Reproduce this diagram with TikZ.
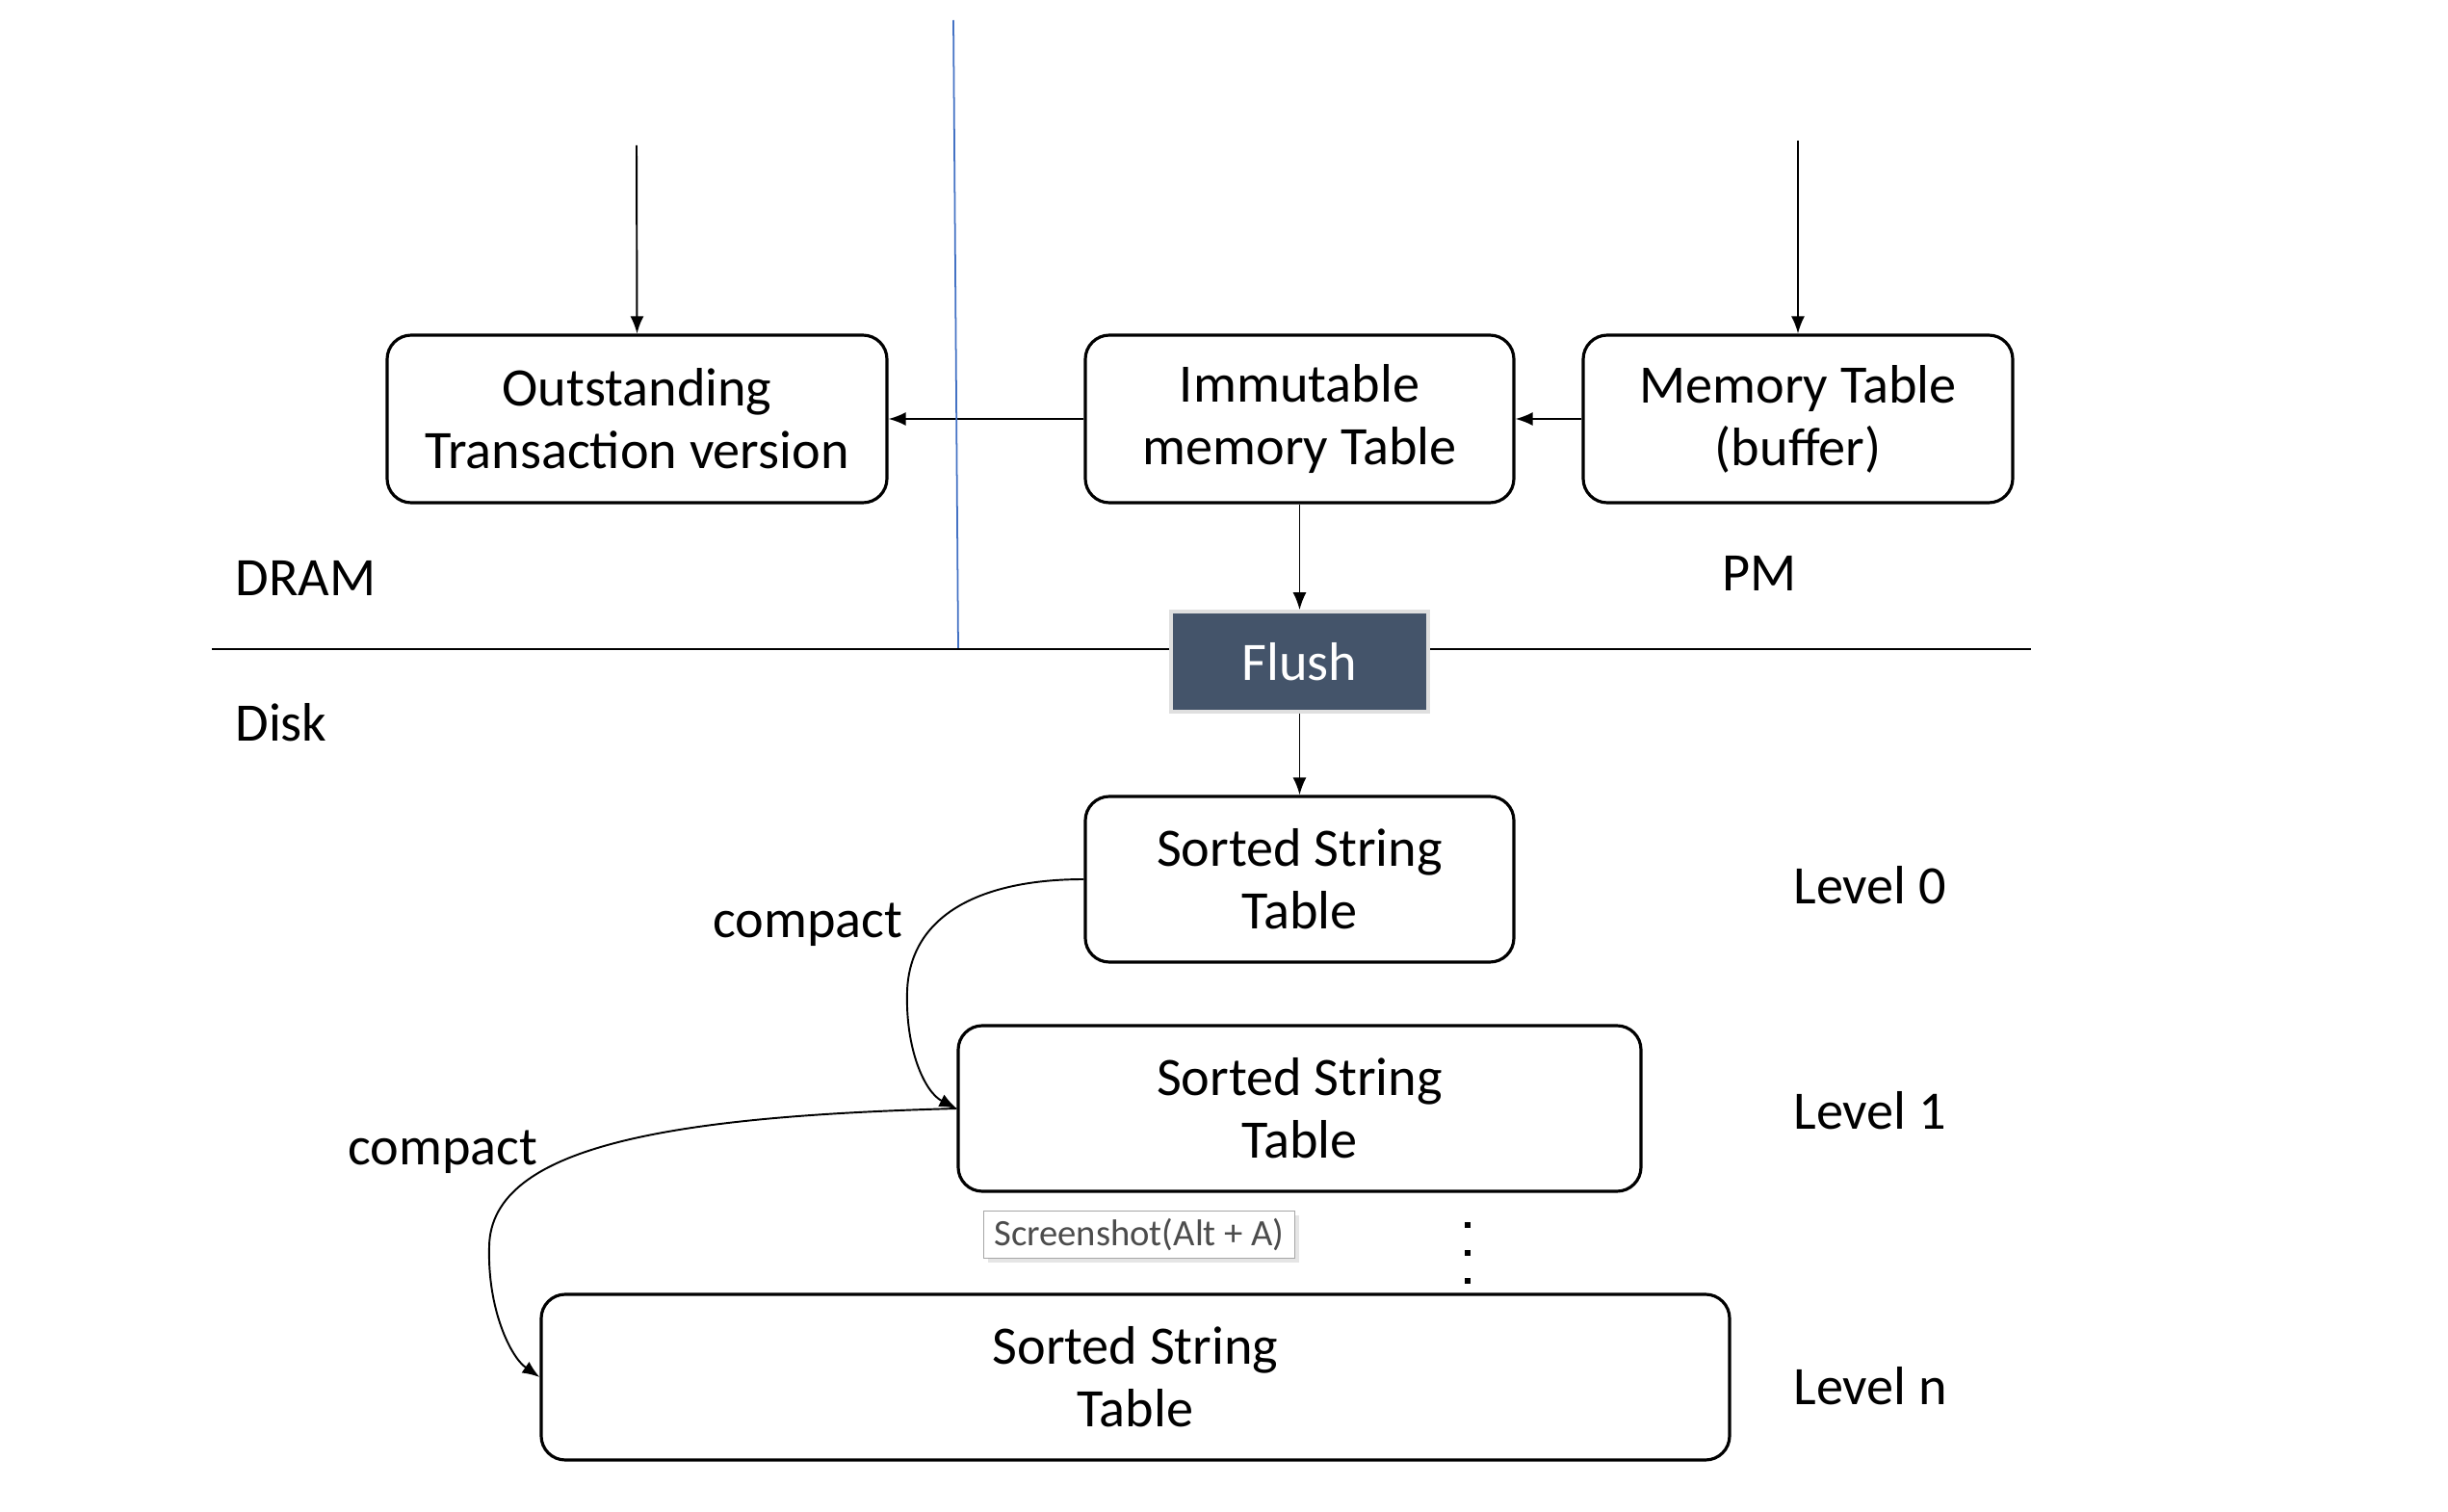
\documentclass[tikz,border=0pt]{standalone}
\usepackage{fontspec}
\setmainfont{Carlito}
\usepackage{tikz}
\usetikzlibrary{shadows,arrows.meta}
\definecolor{flushblue}{HTML}{44546A}
\definecolor{linkblue}{HTML}{4472C4}
\tikzstyle{arrow}     = [line width=0.55pt,->,>={Latex[length=1.8mm,width=1.4mm]}]
\tikzstyle{box}       = [draw,line width=0.9pt,rounded corners=0.25cm,align=center,font=\fontsize{16}{18.5}\selectfont]
\tikzstyle{lbl}       = [font=\fontsize{16}{18.5}\selectfont]

\begin{document}
\begin{tikzpicture}
           \useasboundingbox (0, 0) rectangle (25.42, 15.69);
           % memory side
           \node[box,minimum width=5.19cm,minimum height=1.74cm](ots)at(6.615, 11.34){Outstanding\\Transaction version};
           \node[box,minimum width=4.45cm,minimum height=1.74cm](imm)at(13.495, 11.34){Immutable\\memory Table};
           \node[box,minimum width=4.46cm,minimum height=1.74cm](mem)at(18.67, 11.34){Memory Table\\(buffer)};
           \coordinate(otsin)at(6.61, 14.18);
           \coordinate(memin)at(18.67, 14.23);
           \draw[arrow](otsin)--(ots.north);
           \draw[arrow](memin)--(mem.north);
           \draw[arrow](mem.west)--(imm.east);
           \draw[arrow](imm.west)--(ots.east);
           % separators
           \coordinate(bt)at(9.90, 15.48);
           \coordinate(bb)at(9.95, 8.95);
           \draw[linkblue,line width=0.5pt](bt)--(bb);
           \coordinate(hl)at(2.20, 8.95);
           \coordinate(hr)at(21.09, 8.95);
           \draw[line width=0.55pt](hl)--(hr);
           \node[lbl,anchor=west](dram)at(2.32, 9.69){DRAM};
           \node[lbl](pm)at(18.27, 9.74){PM};
           \node[lbl,anchor=west](disk)at(2.32, 8.19){Disk};
           % flush
           \node[fill=flushblue,draw=gray!25,line width=1pt,text=white,minimum width=2.67cm,minimum height=1.04cm,font=\fontsize{16}{18.5}\selectfont](flush)at(13.495, 8.82){Flush};
           \draw[arrow](imm.south)--(flush.north);
           % disk levels
           \node[box,minimum width=4.45cm,minimum height=1.72cm](sst0)at(13.495, 6.56){Sorted String\\Table};
           \node[box,minimum width=7.09cm,minimum height=1.72cm](sst1)at(13.495, 4.18){Sorted String\\Table};
           \node[box,minimum width=12.34cm,minimum height=1.72cm](sstn)at(11.79, 1.39){Sorted String\\Table};
           \draw[arrow](flush.south)--(sst0.north);
           \node[lbl,anchor=west](lv0)at(18.50, 6.50){Level 0};
           \node[lbl,anchor=west](lv1)at(18.50, 4.16){Level 1};
           \node[lbl,anchor=west](lvn)at(18.50, 1.30){Level n};
           \node[lbl](cp1)at(8.39, 6.09){compact};
           \node[lbl](cp2)at(4.60, 3.73){compact};
           \draw[arrow](sst0.west) .. controls (10.2, 6.56) and (9.45, 6.2) .. (9.42, 5.40)
                                   .. controls (9.40, 4.8) and (9.6, 4.35) .. (sst1.west);
           \draw[arrow](sst1.west) .. controls (7.0, 4.1) and (5.1, 3.8) .. (5.08, 2.75)
                                   .. controls (5.06, 2.1) and (5.3, 1.6) .. (sstn.west);
           % dots and tooltip
           \node[fill,inner sep=0pt,minimum size=0.06cm](d1)at(15.24, 2.97){};
           \node[fill,inner sep=0pt,minimum size=0.06cm](d2)at(15.24, 2.68){};
           \node[fill,inner sep=0pt,minimum size=0.06cm](d3)at(15.24, 2.39){};
           \node[draw=gray!70,fill=white,line width=0.4pt,text=black!70,minimum width=3.23cm,minimum height=0.49cm,inner sep=1pt,
                 drop shadow={shadow xshift=0.04cm,shadow yshift=-0.04cm,fill=gray!40},font=\fontsize{11}{13}\selectfont](tip)at(11.83, 2.87){Screenshot(Alt + A)};
\end{tikzpicture}
\end{document}
